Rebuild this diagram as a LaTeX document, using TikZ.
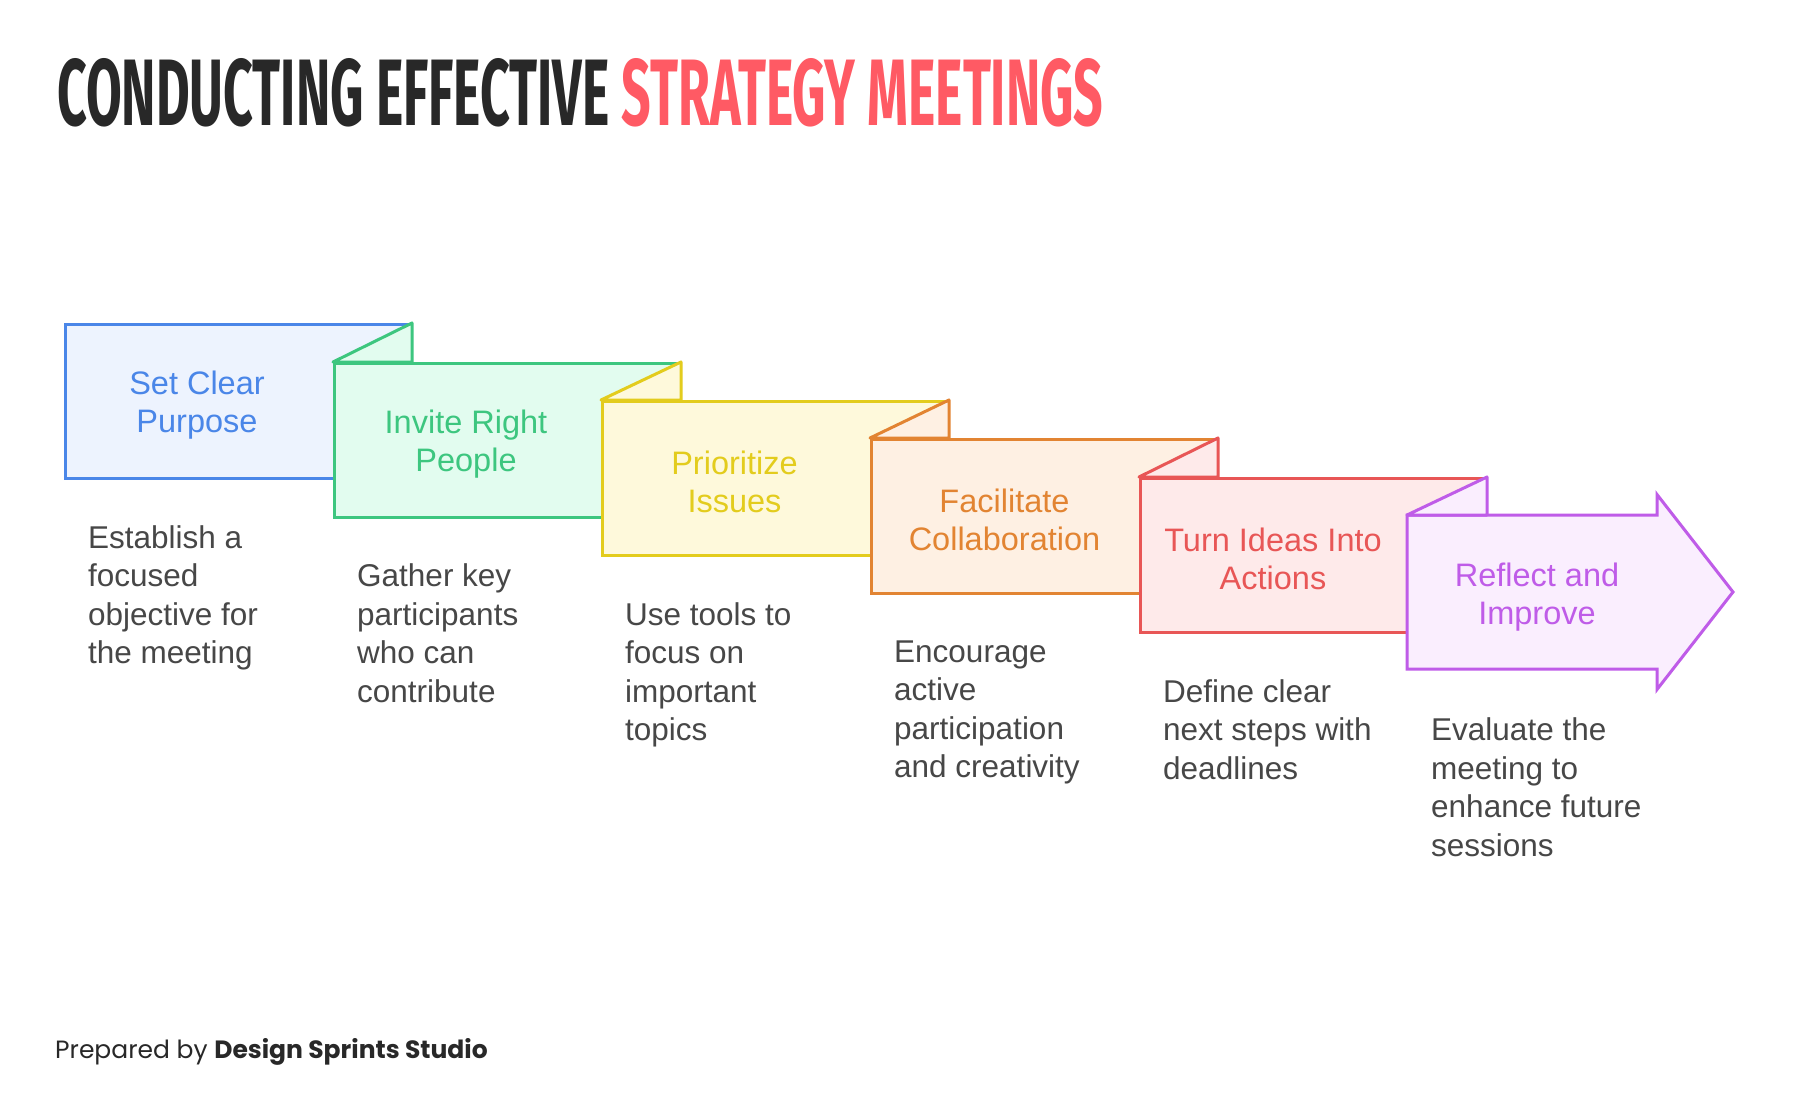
\documentclass[tikz,border=0pt]{standalone}
\usepackage{fontspec}
\usepackage{graphicx}
\setmainfont{Liberation Sans}
\newfontfamily\titlefont{Fira Sans}
\newfontfamily\footfont{Poppins}
\usetikzlibrary{positioning}

\definecolor{ink}{HTML}{474747}
\definecolor{dark}{HTML}{282828}
\definecolor{titlered}{HTML}{FF5A64}
\definecolor{blueline}{HTML}{4A86E8}
\definecolor{bluefill}{HTML}{EDF3FE}
\definecolor{greenline}{HTML}{3DC67F}
\definecolor{greenfill}{HTML}{E2FCEF}
\definecolor{yellowline}{HTML}{E3CC1D}
\definecolor{yellowfill}{HTML}{FEF9DB}
\definecolor{orangeline}{HTML}{E28432}
\definecolor{orangefill}{HTML}{FEF0E3}
\definecolor{redline}{HTML}{E85656}
\definecolor{redfill}{HTML}{FEEAEA}
\definecolor{purpleline}{HTML}{BF5CE8}
\definecolor{purplefill}{HTML}{FAEEFE}

\tikzset{
    stepbox/.style={draw, line width=3pt, minimum width=345pt, minimum height=154pt, inner sep=0pt, anchor=north west},
    fold/.style={line width=3pt, line join=round},
    steplabel/.style={align=center, inner sep=0pt, font=\fontsize{32.5}{38.5}\selectfont},
    stepnote/.style={align=left, anchor=north west, inner sep=0pt, text=ink, font=\fontsize{31.5}{38.5}\selectfont},
}

\begin{document}
\begin{tikzpicture}[x=1pt, y=-1pt]
        \useasboundingbox[fill=white] (0,0) rectangle (1800,1118);

        \node[anchor=base west, inner sep=0pt, text=dark] (title) at (57,126) {\resizebox{1046pt}{67pt}{\titlefont\bfseries CONDUCTING EFFECTIVE \textcolor{titlered}{STRATEGY MEETINGS}}};

        \node[stepbox, draw=blueline, fill=bluefill] (b1) at (64,323) {};
        \node[stepbox, draw=greenline, fill=greenfill] (b2) at (333,362) {};
        \draw[fold, draw=greenline, fill=greenfill] (b2.north west) -- (b1.north east) -- (b1.north east |- b2.north west) -- cycle;
        \node[stepbox, draw=yellowline, fill=yellowfill] (b3) at (601,400) {};
        \draw[fold, draw=yellowline, fill=yellowfill] (b3.north west) -- (b2.north east) -- (b2.north east |- b3.north west) -- cycle;
        \node[stepbox, draw=orangeline, fill=orangefill] (b4) at (870,438) {};
        \draw[fold, draw=orangeline, fill=orangefill] (b4.north west) -- (b3.north east) -- (b3.north east |- b4.north west) -- cycle;
        \node[stepbox, draw=redline, fill=redfill] (b5) at (1139,477) {};
        \draw[fold, draw=redline, fill=redfill] (b5.north west) -- (b4.north east) -- (b4.north east |- b5.north west) -- cycle;

        % last step is the arrow
        \coordinate (b6) at (1407,515);
        \draw[line width=3pt, draw=purpleline, fill=purplefill] (b6) -- (1657,515) -- (1657,494.5) -- (1733,592) -- (1657,689.5) -- (1657,669) -- (1407,669) -- cycle;
        \draw[fold, draw=purpleline, fill=purplefill] (b6) -- (b5.north east) -- (b5.north east |- b6) -- cycle;

        \node[steplabel, text=blueline] (l1) at (197,405) {Set Clear\\Purpose};
        \node[steplabel, text=greenline] (l2) at (466,444) {Invite Right\\People};
        \node[steplabel, text=yellowline] (l3) at (734.5,482) {Prioritize\\Issues};
        \node[steplabel, text=orangeline] (l4) at (1004.5,520) {Facilitate\\Collaboration};
        \node[steplabel, text=redline] (l5) at (1273,559) {Turn Ideas Into\\Actions};
        \node[steplabel, text=purpleline] (l6) at (1537,597) {Reflect and\\Improve};

        \node[stepnote] (n1) at (88,525) {Establish a\\focused\\objective for\\the meeting};
        \node[stepnote] (n2) at (357,563.5) {Gather key\\participants\\who can\\contribute};
        \node[stepnote] (n3) at (625,602) {Use tools to\\focus on\\important\\topics};
        \node[stepnote] (n4) at (894,640.5) {Encourage\\active\\participation\\and creativity};
        \node[stepnote] (n5) at (1163,679) {Define clear\\next steps with\\deadlines};
        \node[stepnote] (n6) at (1431,717.5) {Evaluate the\\meeting to\\enhance future\\sessions};

        \node[anchor=base west, inner sep=0pt, text=dark, font=\footfont\fontsize{25}{30}\selectfont] (credit) at (55,1058) {Prepared by \textbf{Design Sprints Studio}};
\end{tikzpicture}
\end{document}
